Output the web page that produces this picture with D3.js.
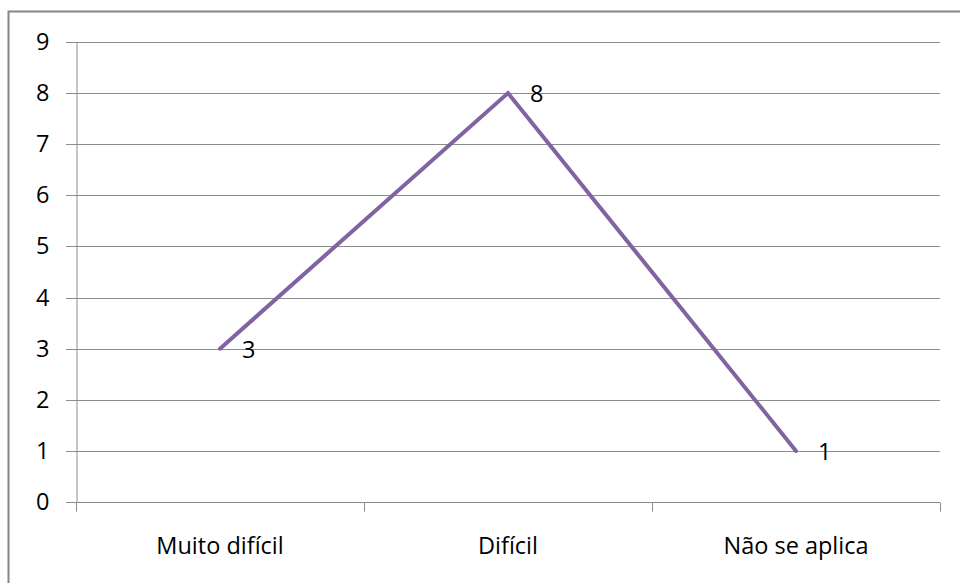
<!DOCTYPE html>
<html>
<head>
<meta charset="utf-8">
<script src="https://cdn.jsdelivr.net/npm/d3@7"></script>
<style>
  html, body { margin: 0; padding: 0; background: #fff; }
  svg { display: block; }
  text { font-family: "Open Sans", "DejaVu Sans", sans-serif; fill: #000; }
</style>
</head>
<body>
<svg id="chart" width="960" height="583"></svg>
<script>
// Difficulty categories and their counts
const categories = ["Muito difícil", "Difícil", "Não se aplica"];
const values = [3, 8, 1];
const yTicks = [0, 1, 2, 3, 4, 5, 6, 7, 8, 9];

const svg = d3.select("#chart");
const W = 960, H = 583;
const plot = { left: 76, right: 940, top: 42, bottom: 502 };
const FS = 23.5;

// Outer chart frame
svg.append("rect")
  .attr("x", 8.5).attr("y", 11.5)
  .attr("width", W).attr("height", H)
  .attr("fill", "none")
  .attr("stroke", "#868686")
  .attr("stroke-width", 2);

const x = d3.scaleBand()
  .domain(categories)
  .range([plot.left, plot.right])
  .paddingInner(0).paddingOuter(0);

const y = d3.scaleLinear()
  .domain([0, 9])
  .range([plot.bottom, plot.top]);

// Horizontal gridlines
svg.append("g")
  .selectAll("line")
  .data(yTicks)
  .join("line")
  .attr("x1", plot.left - 10)
  .attr("x2", plot.right)
  .attr("y1", d => Math.round(y(d)) + 0.5)
  .attr("y2", d => Math.round(y(d)) + 0.5)
  .attr("stroke", "#8c8c8c")
  .attr("stroke-width", 1);

// Y axis
const yAxis = svg.append("g")
  .attr("transform", `translate(${plot.left + 0.5},0)`)
  .call(d3.axisLeft(y).tickValues(yTicks).tickSize(0).tickPadding(27).tickFormat(d3.format("d")));
yAxis.select(".domain").attr("stroke", "#8c8c8c");
yAxis.selectAll("text").attr("font-size", FS).attr("fill", "#000")
  .style("font-family", "'Open Sans', sans-serif");

// X axis with boundary ticks between categories
const xAxis = svg.append("g")
  .attr("transform", `translate(0,${Math.round(y(0)) + 0.5})`);
xAxis.append("line")
  .attr("x1", plot.left).attr("x2", plot.right)
  .attr("stroke", "#8c8c8c");
const boundaries = categories.map(c => x(c)).concat([x(categories[categories.length - 1]) + x.bandwidth()]);
xAxis.selectAll("line.tick")
  .data(boundaries)
  .join("line")
  .attr("class", "tick")
  .attr("x1", d => Math.round(d) + 0.5)
  .attr("x2", d => Math.round(d) + 0.5)
  .attr("y1", 0).attr("y2", 9)
  .attr("stroke", "#8c8c8c");
xAxis.selectAll("text")
  .data(categories)
  .join("text")
  .attr("x", d => x(d) + x.bandwidth() / 2)
  .attr("y", 51)
  .attr("text-anchor", "middle")
  .attr("font-size", FS)
  .text(d => d);

// Series line
const line = d3.line()
  .x((d, i) => x(categories[i]) + x.bandwidth() / 2)
  .y(d => y(d));
svg.append("path")
  .datum(values)
  .attr("d", line)
  .attr("fill", "none")
  .attr("stroke", "#8064a2")
  .attr("stroke-width", 4)
  .attr("stroke-linejoin", "miter")
  .attr("stroke-linecap", "round");

// Value labels to the right of each point
svg.append("g")
  .selectAll("text")
  .data(values)
  .join("text")
  .attr("x", (d, i) => x(categories[i]) + x.bandwidth() / 2 + 22)
  .attr("y", d => y(d) + 9)
  .attr("font-size", FS)
  .text(d => d);
</script>
</body>
</html>
